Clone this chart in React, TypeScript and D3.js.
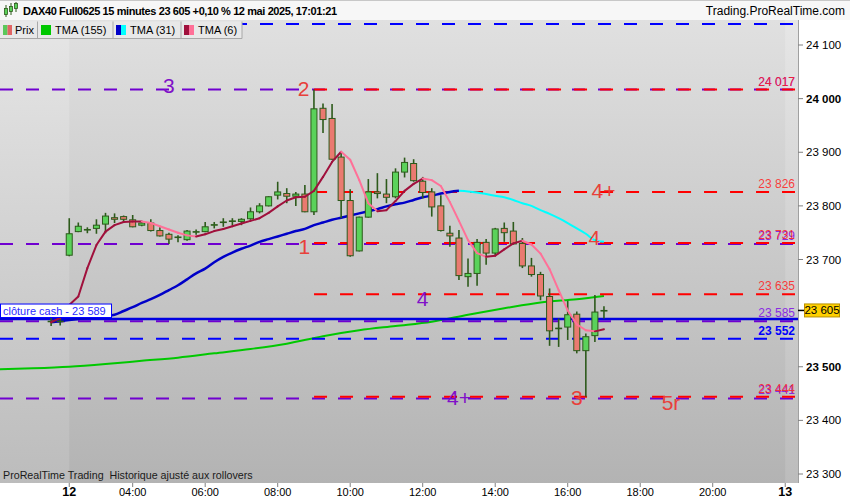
import React from 'react';
import * as d3 from 'd3';

// ---------- DATA ----------
const candleStart = -2; // index of first candle (15-min slots, 0 = 02:15 on 12 May)
const opens = [23584, 23585, 23708, 23752, 23755, 23758, 23766, 23778, 23780, 23774, 23764, 23768, 23754, 23747, 23742, 23737, 23751, 23752, 23764, 23769, 23771, 23771, 23776, 23789, 23800, 23820, 23823, 23818, 23822, 23789, 23982, 23963, 23891, 23810, 23716, 23779, 23826, 23822, 23817, 23863, 23879, 23846, 23826, 23800, 23749, 23740, 23668, 23674, 23732, 23712, 23758, 23753, 23730, 23688, 23672, 23631, 23572, 23574, 23598, 23530, 23558, 23604];
const highs = [23591, 23590, 23777, 23769, 23760, 23775, 23787, 23786, 23782, 23783, 23772, 23775, 23760, 23750, 23745, 23755, 23756, 23770, 23770, 23777, 23777, 23777, 23797, 23805, 23818, 23845, 23833, 23826, 23839, 24017, 23991, 23990, 23901, 23831, 23780, 23850, 23861, 23850, 23870, 23890, 23887, 23854, 23833, 23820, 23763, 23755, 23702, 23738, 23738, 23759, 23769, 23770, 23740, 23703, 23677, 23646, 23590, 23623, 23603, 23562, 23634, 23613];
const lows = [23576, 23577, 23706, 23751, 23749, 23748, 23749, 23768, 23769, 23760, 23762, 23752, 23743, 23729, 23732, 23735, 23746, 23751, 23758, 23761, 23764, 23764, 23774, 23786, 23799, 23812, 23805, 23800, 23788, 23783, 23936, 23886, 23777, 23705, 23715, 23778, 23814, 23805, 23814, 23853, 23845, 23814, 23780, 23752, 23724, 23662, 23649, 23651, 23690, 23708, 23733, 23728, 23684, 23668, 23624, 23539, 23537, 23550, 23525, 23444, 23546, 23590];
const closes = [23585, 23584, 23748, 23762, 23756, 23764, 23781, 23775, 23775, 23761, 23768, 23754, 23744, 23738, 23741, 23753, 23752, 23761, 23765, 23770, 23772, 23775, 23789, 23800, 23817, 23826, 23818, 23822, 23789, 23981, 23961, 23887, 23810, 23707, 23779, 23826, 23823, 23816, 23863, 23881, 23847, 23825, 23798, 23754, 23744, 23670, 23674, 23732, 23712, 23757, 23750, 23729, 23688, 23672, 23632, 23567, 23571, 23597, 23530, 23556, 23602, 23605];

// TMA(6), one value per candle from index -2
const tma6 = [23583, 23591, 23615, 23631, 23684, 23727, 23752, 23764, 23770, 23771, 23771, 23768, 23762, 23756, 23750, 23745, 23743, 23747, 23753, 23757, 23762, 23767, 23772, 23777, 23787, 23799, 23810, 23816, 23817, 23828, 23854, 23882, 23901, 23886, 23848, 23805, 23790, 23792, 23809, 23828, 23841, 23851, 23848, 23837, 23807, 23772, 23736, 23712, 23705, 23707, 23719, 23730, 23735, 23728, 23711, 23682, 23643, 23605, 23579, 23568, 23566, 23570];
// TMA(31) from index -2 to 43, then its cyan projection from 43 to 59
const tma31 = [23583, 23585, 23587, 23589, 23591, 23593, 23595, 23597, 23604, 23611, 23619, 23626, 23634, 23643, 23652, 23663, 23674, 23683, 23695, 23705, 23713, 23720, 23726, 23733, 23738, 23743, 23748, 23753, 23757, 23764, 23769, 23774, 23778, 23782, 23786, 23790, 23794, 23799, 23803, 23806, 23811, 23816, 23819, 23823, 23826, 23828];
const tma31Projection = [23828, 23827, 23825, 23822, 23819, 23816, 23811, 23805, 23800, 23792, 23785, 23777, 23768, 23758, 23748, 23736, 23733];
// TMA(155) sampled points (index, value)
const tma155Index = [-8, -4, 0, 4, 8, 12, 16, 20, 24, 28, 32, 36, 40, 44, 48, 52, 56, 59];
const tma155 = [23495, 23497, 23500, 23505, 23511, 23517, 23525, 23533, 23543, 23557, 23568, 23576, 23584, 23597, 23609, 23620, 23626, 23632];

// horizontal levels
const purpleLevels = [24017, 23729, 23585, 23441];
const redLevels = [24017, 23826, 23731, 23635, 23444];
const blueDashLevels = [24139, 23552];
const closeCash = 23589;
const lastPrice = 23605;

// annotations
const annText = ['3', '2', '1', '4+', '4', '4', '4+', '3', '5r'];
const annIndex = [11, 25.85, 25.95, 58.95, 57.95, 39, 43, 56, 66.4];
const annPrice = [24024, 24019, 23725, 23829, 23741, 23628, 23442, 23442, 23434];
const annPurple = [true, false, false, false, false, true, true, false, false];

// axes
const yTicks = [24100, 24000, 23900, 23800, 23700, 23500, 23400, 23300];
const xTickLabels = ['12', '04:00', '06:00', '08:00', '10:00', '12:00', '14:00', '16:00', '18:00', '20:00', '13'];
const xTickIndex = [0, 7, 15, 23, 31, 39, 47, 55, 63, 71, 79];

const FONT = 'Arial, "Liberation Sans", sans-serif';
const RED = '#ff0000';
const PURPLE = '#7000d0';
const BLUE = '#0000ff';

const fmt = (v: number) => `${Math.floor(v / 1000)} ${String(Math.round(v) % 1000).padStart(3, '0')}`;

export default function App() {
  const PR = 798, PT = 20, PB = 483;
  const x = d3.scaleLinear().domain([-7.64, 80.41]).range([0, PR]);
  const y = d3.scaleLinear().domain([23300, 24100]).range([474, 45]);

  const line = d3.line<[number, number]>().x(d => x(d[0])).y(d => y(d[1]));
  const smooth = d3.line<[number, number]>().x(d => x(d[0])).y(d => y(d[1])).curve(d3.curveMonotoneX);

  const t31: [number, number][] = tma31.map((v, k) => [candleStart + k, v]);
  const t31p: [number, number][] = tma31Projection.map((v, k) => [43 + k, v]);
  const t155: [number, number][] = tma155.map((v, k) => [tma155Index[k], v]);

  const tma6Segs = tma6.slice(1).map((v, k) => {
    const a: [number, number] = [candleStart + k, tma6[k]];
    const b: [number, number] = [candleStart + k + 1, v];
    return { d: line([a, b]) as string, up: v >= tma6[k] };
  });

  const redStart = x(26.9);
  const labelX = 795;

  return (
    <svg width={850} height={500} style={{ position: 'absolute', left: 0, top: 0, background: '#fff' }} fontFamily={FONT}>
      <defs>
        <linearGradient id="bgMain" x1="0" y1="0" x2="0" y2="1">
          <stop offset="0" stopColor="#e0e0e0" />
          <stop offset="1" stopColor="#b3b3b3" />
        </linearGradient>
        <linearGradient id="bgSide" x1="0" y1="0" x2="0" y2="1">
          <stop offset="0" stopColor="#e6e6e6" />
          <stop offset="1" stopColor="#bcbcbc" />
        </linearGradient>
        <clipPath id="plotClip"><rect x={0} y={PT} width={PR} height={PB - PT} /></clipPath>
      </defs>

      {/* header */}
      <rect x={0} y={0} width={850} height={PT} fill="#f7f7f7" />
      <line x1={0} x2={850} y1={0.5} y2={0.5} stroke="#c8c8c8" />
      <g>
        <line x1={6} x2={6} y1={5} y2={17} stroke="#2d5a1b" />
        <rect x={4.5} y={8.5} width={3} height={6} fill="#5ad25a" stroke="#2d5a1b" strokeWidth={0.8} />
        <line x1={11} x2={11} y1={3} y2={15} stroke="#2d5a1b" />
        <rect x={9.5} y={6.5} width={3} height={5} fill="#5ad25a" stroke="#2d5a1b" strokeWidth={0.8} />
        <line x1={16} x2={16} y1={2} y2={12} stroke="#2d5a1b" />
        <rect x={14.5} y={3.5} width={3} height={5} fill="#5ad25a" stroke="#2d5a1b" strokeWidth={0.8} />
      </g>
      <text x={23} y={15} fontSize={11} fontWeight="bold" fill="#000" letterSpacing={-0.4}>DAX40 Full0625 15 minutes 23 605 +0,10 % 12 mai 2025, 17:01:21</text>
      <text x={845} y={15} fontSize={12} textAnchor="end" fill="#000">Trading.ProRealTime.com</text>

      {/* plot background */}
      <rect x={0} y={PT} width={PR} height={PB - PT} fill="url(#bgSide)" />
      <rect x={x(0)} y={PT} width={x(79) - x(0)} height={PB - PT} fill="url(#bgMain)" />

      <g clipPath="url(#plotClip)">
        {/* TMA 155 */}
        <path d={smooth(t155) as string} fill="none" stroke="#00c800" strokeWidth={2} />

        {/* dashed levels */}
        {blueDashLevels.map((v, k) => (
          <line key={'b' + k} x1={0} x2={PR - 3} y1={y(v)} y2={y(v)} stroke={BLUE} strokeWidth={2} strokeDasharray="13 13" />
        ))}
        {purpleLevels.map((v, k) => (
          <line key={'p' + k} x1={0} x2={PR - 3} y1={y(v)} y2={y(v)} stroke={PURPLE} strokeWidth={2} strokeDasharray="13 13" />
        ))}
        <line x1={0} x2={PR} y1={y(closeCash)} y2={y(closeCash)} stroke="#0000e0" strokeWidth={2.5} />
        {redLevels.map((v, k) => (
          <line key={'r' + k} x1={redStart} x2={PR - 3} y1={y(v)} y2={y(v)} stroke={RED} strokeWidth={2} strokeDasharray="13 13" strokeDashoffset={-1} />
        ))}

        {/* TMA 31 */}
        <path d={smooth(t31) as string} fill="none" stroke="#0000c8" strokeWidth={2.5} />
        <path d={smooth(t31p) as string} fill="none" stroke="#00ffff" strokeWidth={2} />

        {/* candles */}
        {opens.map((o, k) => {
          const i = candleStart + k;
          const c = closes[k];
          const cx = x(i);
          const top = y(Math.max(o, c));
          const bot = y(Math.min(o, c));
          const up = c >= o;
          return (
            <g key={'c' + k}>
              <line x1={cx} x2={cx} y1={y(highs[k])} y2={y(lows[k])} stroke="#2d5a1b" strokeWidth={1.6} />
              <rect x={cx - 3} y={top} width={6} height={Math.max(bot - top, 0.6)} fill={up ? '#5ad25a' : '#ea7a70'} stroke="#2d5a1b" strokeWidth={1} />
            </g>
          );
        })}

        {/* TMA 6 */}
        {tma6Segs.map((s, k) => (
          <path key={'t6' + k} d={s.d} fill="none" stroke={s.up ? '#a0103c' : '#ff7098'} strokeWidth={2} strokeLinecap="round" />
        ))}

        {/* annotations */}
        {annText.map((t, k) => (
          <text key={'a' + k} x={x(annIndex[k])} y={y(annPrice[k])} fontSize={21} textAnchor="middle" dominantBaseline="central" fill={annPurple[k] ? '#8010c8' : '#e8403a'}>{t}</text>
        ))}

        {/* right price labels */}
        {purpleLevels.map((v, k) => (
          <text key={'pl' + k} x={labelX} y={y(v) - 4} fontSize={12} textAnchor="end" fill="#8a2be2">{fmt(v)}</text>
        ))}
        {redLevels.map((v, k) => (
          <text key={'rl' + k} x={labelX} y={y(v) - 4} fontSize={12} textAnchor="end" fill="#ff2020" fillOpacity={0.85}>{fmt(v)}</text>
        ))}
        <text x={labelX} y={y(blueDashLevels[1]) - 4} fontSize={12} fontWeight="bold" textAnchor="end" fill="#0000ff">{fmt(blueDashLevels[1])}</text>

        {/* cloture cash label */}
        <rect x={0.5} y={y(closeCash) - 15} width={111} height={13.5} fill="#fff" stroke="#0000ff" strokeWidth={1} />
        <text x={3} y={y(closeCash) - 4.5} fontSize={11} fill="#2a2aff">clôture cash -  {fmt(closeCash)}</text>

        {/* footer text */}
        <text x={3} y={479} fontSize={10.7} fill="#1a1a1a" xmlSpace="preserve">ProRealTime Trading  Historique ajusté aux rollovers</text>
      </g>

      {/* legend */}
      <g fontSize={11}>
        <rect x={0} y={21.5} width={242} height={17} fill="#e8e8e8" />
        {[37.5, 113, 181, 242].map((bx, k) => (
          <line key={'lg' + k} x1={bx} x2={bx} y1={21.5} y2={38.5} stroke="#a8a8a8" />
        ))}
        <line x1={0} x2={242} y1={38.5} y2={38.5} stroke="#a8a8a8" />
        <rect x={3} y={25} width={4.5} height={10} fill="#5ac85a" />
        <rect x={7.5} y={25} width={4.5} height={10} fill="#e06464" />
        <text x={15} y={34} fill="#000">Prix</text>
        <rect x={41} y={25} width={10} height={10} fill="#00c800" />
        <text x={55} y={34} fill="#000">TMA (155)</text>
        <rect x={116} y={25} width={5} height={10} fill="#0000c8" />
        <rect x={121} y={25} width={5} height={10} fill="#00ffff" />
        <text x={130} y={34} fill="#000">TMA (31)</text>
        <rect x={184} y={25} width={5} height={10} fill="#a0103c" />
        <rect x={189} y={25} width={5} height={10} fill="#ff7098" />
        <text x={198} y={34} fill="#000">TMA (6)</text>
      </g>

      {/* right axis */}
      <line x1={PR + 0.5} x2={PR + 0.5} y1={PT} y2={PB} stroke="#a0a0a0" />
      {yTicks.map(v => (
        <g key={'yt' + v}>
          <line x1={PR} x2={PR + 5} y1={y(v)} y2={y(v)} stroke="#808080" />
          <text x={806} y={y(v)} dominantBaseline="central" fontSize={11.5} fontWeight={v % 500 === 0 ? 'bold' : 'normal'} fill="#000">{fmt(v)}</text>
        </g>
      ))}
      <line x1={PR} x2={PR + 6} y1={y(lastPrice)} y2={y(lastPrice)} stroke="#000" strokeWidth={1.5} />
      <rect x={804.5} y={y(lastPrice) - 6.5} width={35} height={13} fill="#ffd000" stroke="#b89000" />
      <text x={822} y={y(lastPrice)} dominantBaseline="central" textAnchor="middle" fontSize={11.5} fill="#000">{fmt(lastPrice)}</text>

      {/* bottom axis */}
      {xTickLabels.map((t, k) => (
        <g key={'xt' + k}>
          <line x1={x(xTickIndex[k])} x2={x(xTickIndex[k])} y1={PB} y2={PB + 4} stroke="#808080" />
          <text x={x(xTickIndex[k])} y={496} textAnchor="middle" fontSize={t.length === 2 ? 12.5 : 11} fontWeight={t.length === 2 ? 'bold' : 'normal'} fill="#000">{t}</text>
        </g>
      ))}
    </svg>
  );
}
